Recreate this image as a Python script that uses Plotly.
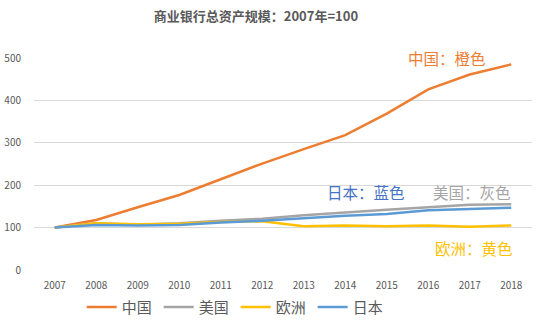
import plotly.graph_objects as go

years = ["2007", "2008", "2009", "2010", "2011", "2012",
         "2013", "2014", "2015", "2016", "2017", "2018"]
china = [100, 118, 148, 177, 214, 251, 285, 318, 369, 426, 461, 485]
usa = [100, 110, 107, 110, 116, 121, 129, 136, 142, 148, 154, 155]
europe = [100, 110, 108, 109, 113, 115, 103, 105, 103, 105, 102, 105]
japan = [100, 106, 105, 106, 112, 116, 122, 128, 132, 141, 144, 147]

series = [
    ("中国", china, "#ED7D31"),
    ("美国", usa, "#A5A5A5"),
    ("欧洲", europe, "#FFC000"),
    ("日本", japan, "#5B9BD5"),
]

FONT = "Noto Sans CJK SC"
TEXT = "#595959"

fig = go.Figure()
for name, vals, color in series:
    fig.add_trace(go.Scatter(
        x=years, y=vals, name=name, mode="lines",
        line=dict(color=color, width=2.5),
    ))

# colour key labels placed by category index along the x axis
notes = [
    ("中国：橙色", 9.45, 499, "#ED7D31"),
    ("日本：蓝色", 7.5, 185, "#4472C4"),
    ("美国：灰色", 10.05, 185, "#A5A5A5"),
    ("欧洲：黄色", 10.1, 52, "#FFC000"),
]
for text, xv, yv, color in notes:
    fig.add_annotation(
        x=xv, y=yv, xref="x", yref="y", text=text, showarrow=False,
        xanchor="center", yanchor="middle",
        font=dict(family=FONT, size=15.5, color=color),
    )

fig.update_layout(
    width=554, height=325,
    margin=dict(l=34, r=22, t=58, b=55, autoexpand=False),
    paper_bgcolor="white", plot_bgcolor="white",
    font=dict(family=FONT, color=TEXT),
    title=dict(
        text="<b>商业银行总资产规模：2007年=100</b>",
        x=0.462, xanchor="center", y=0.95, yanchor="middle",
        font=dict(family=FONT, size=13, color=TEXT),
    ),
    showlegend=True,
    legend=dict(
        orientation="h", x=0.405, xanchor="center",
        yref="container", y=0.055, yanchor="middle",
        font=dict(family=FONT, size=15, color=TEXT),
        itemwidth=30, entrywidth=32, tracegroupgap=0,
    ),
    xaxis=dict(
        type="category", range=[-0.5, 11.5], showgrid=False,
        showline=False, ticks="", tickfont=dict(size=10, color=TEXT),
        ticklabelstandoff=8, fixedrange=True,
    ),
    yaxis=dict(
        range=[0, 500], dtick=100, showgrid=True, gridcolor="#D9D9D9",
        gridwidth=1, zeroline=False, showline=False, ticks="",
        tickfont=dict(size=10, color=TEXT), ticklabelstandoff=12,
    ),
)

fig.write_html("out.html")
